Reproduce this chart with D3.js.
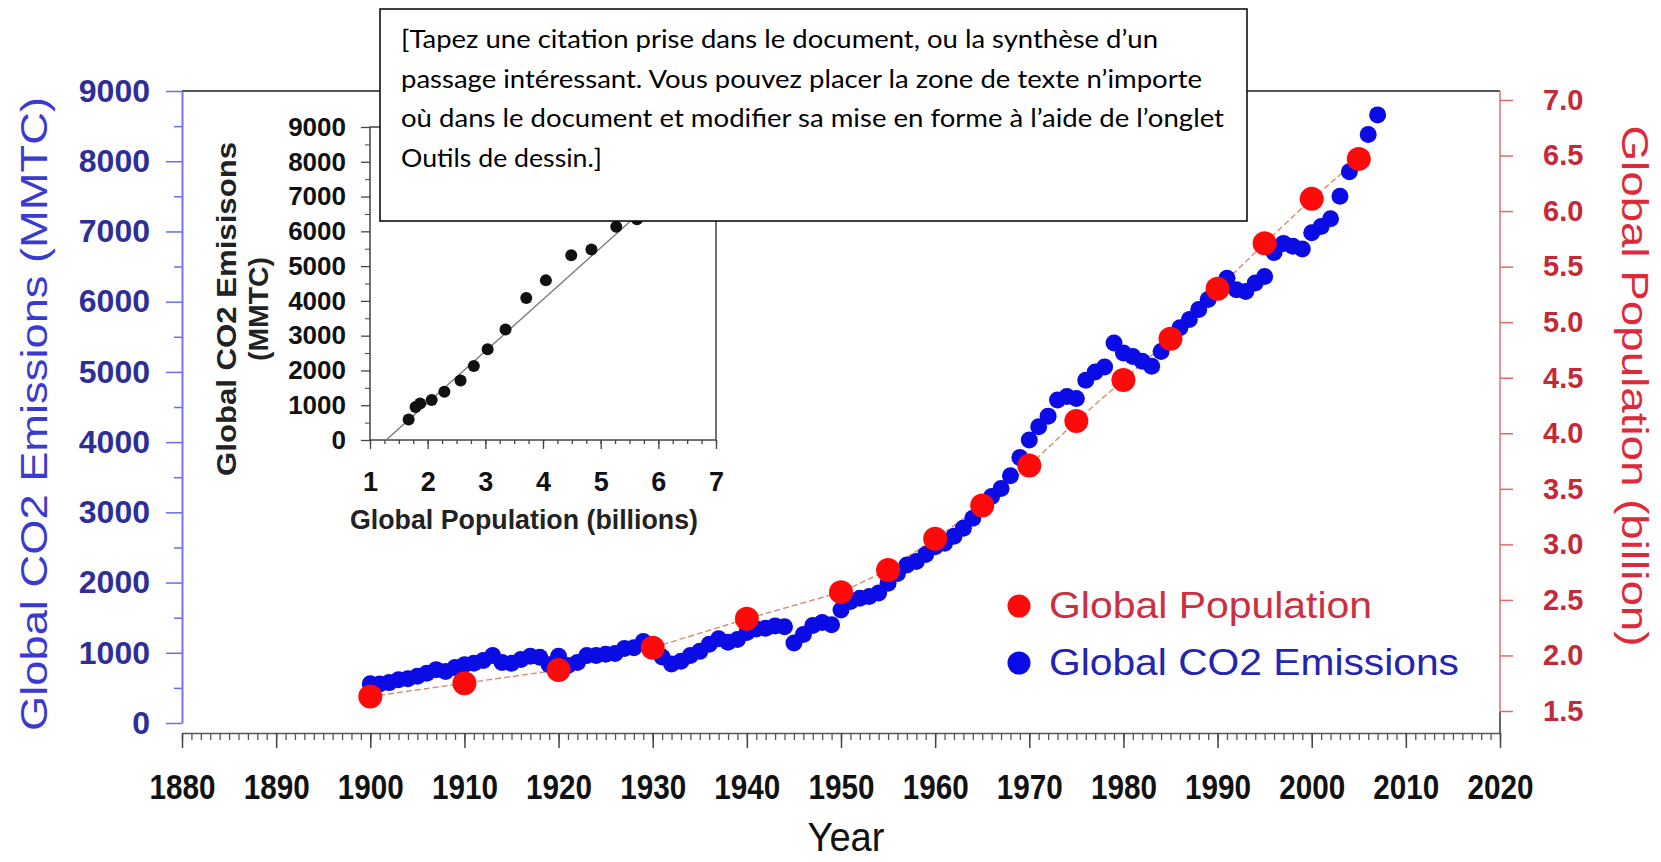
<!DOCTYPE html>
<html>
<head>
<meta charset="utf-8">
<script src="https://cdn.jsdelivr.net/npm/d3@7"></script>
<style>
  body { margin: 0; background: #ffffff; }
  svg { display: block; font-family: 'Liberation Sans', Arial, sans-serif; }
</style>
</head>
<body>
<div id="chart"></div>
<script>
// Global CO2 emissions (MMTC), one point per year
const co2Years = [
  1900, 1901, 1902, 1903, 1904, 1905, 1906, 1907, 1908, 1909,
  1910, 1911, 1912, 1913, 1914, 1915, 1916, 1917, 1918, 1919,
  1920, 1921, 1922, 1923, 1924, 1925, 1926, 1927, 1928, 1929,
  1930, 1931, 1932, 1933, 1934, 1935, 1936, 1937, 1938, 1939,
  1940, 1941, 1942, 1943, 1944, 1945, 1946, 1947, 1948, 1949,
  1950, 1951, 1952, 1953, 1954, 1955, 1956, 1957, 1958, 1959,
  1960, 1961, 1962, 1963, 1964, 1965, 1966, 1967, 1968, 1969,
  1970, 1971, 1972, 1973, 1974, 1975, 1976, 1977, 1978, 1979,
  1980, 1981, 1982, 1983, 1984, 1985, 1986, 1987, 1988, 1989,
  1990, 1991, 1992, 1993, 1994, 1995, 1996, 1997, 1998, 1999,
  2000, 2001, 2002, 2003, 2004, 2005, 2006, 2007,
];
const co2Values = [
  560, 555, 575, 615, 630, 665, 710, 760, 735, 790,
  830, 850, 890, 960, 860, 850, 905, 950, 935, 830,
  950, 820, 860, 960, 960, 980, 990, 1060, 1070, 1160,
  1060, 940, 840, 880, 960, 1020, 1120, 1200, 1150, 1190,
  1290, 1340, 1350, 1380, 1370, 1140, 1260, 1390, 1430, 1400,
  1610, 1730, 1775, 1800, 1850, 1990, 2130, 2250, 2300, 2400,
  2510, 2560, 2660, 2775, 2915, 3080, 3225, 3340, 3520, 3780,
  4030, 4220, 4370, 4600, 4650, 4620, 4880, 5000, 5070, 5410,
  5270, 5220, 5150, 5080, 5290, 5500, 5630, 5745, 5890, 6030,
  6220, 6335, 6170, 6145, 6265, 6360, 6700, 6830, 6790, 6750,
  6980, 7070, 7180, 7500, 7850, 8070, 8380, 8660,
];

// Global population (billion)
const popYears = [1900, 1910, 1920, 1930, 1940, 1950, 1955, 1960, 1965, 1970, 1975, 1980, 1985, 1990, 1995, 2000, 2005];
const popValues = [1.63, 1.75, 1.87, 2.07, 2.33, 2.57, 2.77, 3.05, 3.35, 3.71, 4.11, 4.48, 4.85, 5.30, 5.71, 6.11, 6.47];

// Inset: emissions against population
const insetPop = [1.67, 1.79, 1.87, 2.07, 2.29, 2.57, 2.80, 3.04, 3.35, 3.71, 4.05, 4.49, 4.84, 5.27, 5.63];
const insetCo2 = [590, 950, 1050, 1150, 1390, 1710, 2130, 2610, 3180, 4080, 4590, 5310, 5480, 6130, 6350];
const insetFitPop = [1.28, 6.8];
const insetFitCo2 = [0, 8200];

// Tick labels
const yearTicks = [1880, 1890, 1900, 1910, 1920, 1930, 1940, 1950, 1960, 1970, 1980, 1990, 2000, 2010, 2020];
const co2Ticks = [0, 1000, 2000, 3000, 4000, 5000, 6000, 7000, 8000, 9000];
const popTicks = [1.5, 2.0, 2.5, 3.0, 3.5, 4.0, 4.5, 5.0, 5.5, 6.0, 6.5, 7.0];
const insetPopTicks = [1, 2, 3, 4, 5, 6, 7];

const noteLines = [
  '[Tapez une citation prise dans le document, ou la synthèse d’un',
  'passage intéressant. Vous pouvez placer la zone de texte n’importe',
  'où dans le document et modifier sa mise en forme à l’aide de l’onglet',
  'Outils de dessin.]',
];
const noteWidths = [757, 801, 823, 201];

const co2Data = co2Years.map((year, i) => ({ year, value: co2Values[i] }));
const popData = popYears.map((year, i) => ({ year, value: popValues[i] }));
const insetData = insetPop.map((pop, i) => ({ pop, co2: insetCo2[i] }));

const drawChart = () => {
  const totalWidth = 1661;
  const totalHeight = 862;

  const plot = { left: 182, right: 1500, top: 91, bottom: 733 };

  const xScale = d3.scaleLinear().domain([1880, 2020]).range([plot.left, plot.right]);
  const yLeft = d3.scaleLinear().domain([0, 9000]).range([723, plot.top]);
  const yRight = d3.scaleLinear().domain([1.5, 7.0]).range([711, 100]);

  const svg = d3
    .select('#chart')
    .append('svg')
    .attr('width', totalWidth)
    .attr('height', totalHeight)
    .attr('viewBox', `0 0 ${totalWidth} ${totalHeight}`);

  svg.append('rect').attr('width', totalWidth).attr('height', totalHeight).attr('fill', '#ffffff');

  // Top frame line
  svg
    .append('line')
    .attr('x1', plot.left)
    .attr('x2', plot.right)
    .attr('y1', plot.top)
    .attr('y2', plot.top)
    .attr('stroke', '#555555')
    .attr('stroke-width', 2);

  // Right frame (population axis line)
  svg
    .append('line')
    .attr('x1', plot.right)
    .attr('x2', plot.right)
    .attr('y1', plot.top)
    .attr('y2', 712)
    .attr('stroke', '#e07070')
    .attr('stroke-width', 1.5);
  svg
    .append('line')
    .attr('x1', plot.right)
    .attr('x2', plot.right)
    .attr('y1', 712)
    .attr('y2', plot.bottom)
    .attr('stroke', '#333333')
    .attr('stroke-width', 1.5);

  // Render x axis: yearly minor ticks, decade major ticks
  const minorYears = d3.range(1880, 2021, 1);
  svg
    .append('g')
    .attr('transform', `translate(0, ${plot.bottom})`)
    .call(d3.axisBottom(xScale).tickValues(minorYears).tickSize(7).tickSizeOuter(0).tickFormat(''))
    .call((g) => g.select('.domain').attr('stroke', '#555555').attr('stroke-width', 1.5))
    .call((g) => g.selectAll('.tick line').attr('stroke', '#555555').attr('stroke-width', 1.3));

  svg
    .append('g')
    .attr('transform', `translate(0, ${plot.bottom})`)
    .call(d3.axisBottom(xScale).tickValues(yearTicks).tickSize(15).tickSizeOuter(0).tickFormat(d3.format('d')))
    .call((g) => g.select('.domain').remove())
    .call((g) => g.selectAll('.tick line').attr('stroke', '#444444').attr('stroke-width', 1.5))
    .call((g) =>
      g
        .selectAll('.tick text')
        .attr('y', 66)
        .attr('dy', 0)
        .attr('fill', '#111111')
        .attr('font-size', 35)
        .attr('font-weight', 'bold')
        .attr('textLength', 66)
        .attr('lengthAdjust', 'spacingAndGlyphs')
    );

  // Render x axis label
  svg
    .append('text')
    .attr('x', 846)
    .attr('y', 851)
    .attr('text-anchor', 'middle')
    .attr('font-size', 41)
    .attr('fill', '#111111')
    .attr('textLength', 77)
    .attr('lengthAdjust', 'spacingAndGlyphs')
    .text('Year');

  // Render left y axis
  svg
    .append('g')
    .attr('transform', `translate(${plot.left}, 0)`)
    .call(d3.axisLeft(yLeft).tickValues(d3.range(500, 9000, 1000)).tickSize(8).tickSizeOuter(0).tickFormat(''))
    .call((g) => g.select('.domain').remove())
    .call((g) => g.selectAll('.tick line').attr('stroke', '#6b6bf0').attr('stroke-width', 1.5));

  svg
    .append('g')
    .attr('transform', `translate(${plot.left}, 0)`)
    .call(d3.axisLeft(yLeft).tickValues(co2Ticks).tickSize(16).tickSizeOuter(0).tickPadding(16).tickFormat(d3.format('d')))
    .call((g) => g.select('.domain').attr('stroke', '#7575f5').attr('stroke-width', 2))
    .call((g) => g.selectAll('.tick line').attr('stroke', '#6b6bf0').attr('stroke-width', 1.5))
    .call((g) =>
      g
        .selectAll('.tick text')
        .attr('fill', '#2e2e99')
        .attr('font-size', 32)
        .attr('font-weight', 'bold')
    );

  // Render left y axis label
  svg
    .append('text')
    .attr('transform', 'translate(47, 414) rotate(-90)')
    .attr('text-anchor', 'middle')
    .attr('font-size', 37)
    .attr('fill', '#3a3ad0')
    .attr('textLength', 634)
    .attr('lengthAdjust', 'spacingAndGlyphs')
    .text('Global CO2 Emissions (MMTC)');

  // Render right y axis
  svg
    .append('g')
    .attr('transform', `translate(${plot.right}, 0)`)
    .call(d3.axisRight(yRight).tickValues(popTicks).tickSize(13).tickSizeOuter(0).tickPadding(30).tickFormat(d3.format('.1f')))
    .call((g) => g.select('.domain').remove())
    .call((g) => g.selectAll('.tick line').attr('stroke', '#e06a6a').attr('stroke-width', 1.5))
    .call((g) =>
      g
        .selectAll('.tick text')
        .attr('fill', '#c42a35')
        .attr('font-size', 29)
        .attr('font-weight', 'bold')
    );

  // Render right y axis label
  svg
    .append('text')
    .attr('transform', 'translate(1622, 386) rotate(90)')
    .attr('text-anchor', 'middle')
    .attr('font-size', 37)
    .attr('fill', '#dd2a3a')
    .attr('textLength', 521)
    .attr('lengthAdjust', 'spacingAndGlyphs')
    .text('Global Population (billion)');

  // Population connecting line
  const popLine = d3
    .line()
    .x((d) => xScale(d.year))
    .y((d) => yRight(d.value));

  svg
    .append('path')
    .datum(popData)
    .attr('d', popLine)
    .attr('fill', 'none')
    .attr('stroke', '#d98c6c')
    .attr('stroke-width', 1.4)
    .attr('stroke-dasharray', '6,3');

  // Render CO2 points
  svg
    .append('g')
    .selectAll('circle')
    .data(co2Data)
    .join('circle')
    .attr('cx', (d) => xScale(d.year))
    .attr('cy', (d) => yLeft(d.value))
    .attr('r', 8.5)
    .attr('fill', '#0b0be6');

  // Render population points
  svg
    .append('g')
    .selectAll('circle')
    .data(popData)
    .join('circle')
    .attr('cx', (d) => xScale(d.year))
    .attr('cy', (d) => yRight(d.value))
    .attr('r', 12)
    .attr('fill', '#ff0a0a');

  // Legend
  const legend = [
    { label: 'Global Population', color: '#ff0a0a', text: '#cc3040', y: 606, width: 323 },
    { label: 'Global CO2 Emissions', color: '#0b0be6', text: '#2424b0', y: 663, width: 410 },
  ];
  const legendRows = svg
    .append('g')
    .selectAll('g')
    .data(legend)
    .join('g')
    .attr('transform', (d) => `translate(0, ${d.y})`);
  legendRows
    .append('circle')
    .attr('cx', 1019)
    .attr('cy', 0)
    .attr('r', 11.5)
    .attr('fill', (d) => d.color);
  legendRows
    .append('text')
    .attr('x', 1049)
    .attr('y', 12)
    .attr('font-size', 37)
    .attr('fill', (d) => d.text)
    .attr('textLength', (d) => d.width)
    .attr('lengthAdjust', 'spacingAndGlyphs')
    .text((d) => d.label);

  drawInset(svg);
  drawNote(svg);
};

const drawInset = (svg) => {
  const box = { left: 370, right: 716, top: 127, bottom: 440 };
  const xInset = d3.scaleLinear().domain([1, 7]).range([box.left, box.right]);
  const yInset = d3.scaleLinear().domain([0, 9000]).range([box.bottom, box.top]);

  const inset = svg.append('g');

  // Frame
  inset
    .append('rect')
    .attr('x', box.left)
    .attr('y', box.top)
    .attr('width', box.right - box.left)
    .attr('height', box.bottom - box.top)
    .attr('fill', '#ffffff')
    .attr('stroke', '#444444')
    .attr('stroke-width', 1.5);

  // Inset y axis
  inset
    .append('g')
    .attr('transform', `translate(${box.left}, 0)`)
    .call(d3.axisLeft(yInset).tickValues(d3.range(500, 9000, 1000)).tickSize(5).tickSizeOuter(0).tickFormat(''))
    .call((g) => g.select('.domain').remove())
    .call((g) => g.selectAll('.tick line').attr('stroke', '#444444'));
  inset
    .append('g')
    .attr('transform', `translate(${box.left}, 0)`)
    .call(d3.axisLeft(yInset).tickValues(co2Ticks).tickSize(9).tickSizeOuter(0).tickPadding(15).tickFormat(d3.format('d')))
    .call((g) => g.select('.domain').remove())
    .call((g) => g.selectAll('.tick line').attr('stroke', '#444444').attr('stroke-width', 1.3))
    .call((g) =>
      g
        .selectAll('.tick text')
        .attr('fill', '#111111')
        .attr('font-size', 26)
        .attr('font-weight', 'bold')
    );

  // Inset x axis
  inset
    .append('g')
    .attr('transform', `translate(0, ${box.bottom})`)
    .call(d3.axisBottom(xInset).tickValues(d3.range(1, 7.01, 0.25)).tickSize(4).tickSizeOuter(0).tickFormat(''))
    .call((g) => g.select('.domain').remove())
    .call((g) => g.selectAll('.tick line').attr('stroke', '#444444').attr('stroke-width', 1.3));
  inset
    .append('g')
    .attr('transform', `translate(0, ${box.bottom})`)
    .call(d3.axisBottom(xInset).tickValues(insetPopTicks).tickSize(9).tickSizeOuter(0).tickFormat(d3.format('d')))
    .call((g) => g.select('.domain').remove())
    .call((g) => g.selectAll('.tick line').attr('stroke', '#444444').attr('stroke-width', 1.3))
    .call((g) =>
      g
        .selectAll('.tick text')
        .attr('y', 51)
        .attr('dy', 0)
        .attr('fill', '#111111')
        .attr('font-size', 27)
        .attr('font-weight', 'bold')
    );

  inset
    .append('text')
    .attr('x', 524)
    .attr('y', 529)
    .attr('text-anchor', 'middle')
    .attr('font-size', 27)
    .attr('font-weight', 'bold')
    .attr('fill', '#222222')
    .attr('textLength', 348)
    .attr('lengthAdjust', 'spacingAndGlyphs')
    .text('Global Population (billions)');

  inset
    .append('text')
    .attr('transform', 'translate(236, 309) rotate(-90)')
    .attr('text-anchor', 'middle')
    .attr('font-size', 27)
    .attr('font-weight', 'bold')
    .attr('fill', '#222222')
    .attr('textLength', 334)
    .attr('lengthAdjust', 'spacingAndGlyphs')
    .text('Global CO2 Emisisons');
  inset
    .append('text')
    .attr('transform', 'translate(268, 309) rotate(-90)')
    .attr('text-anchor', 'middle')
    .attr('font-size', 27)
    .attr('font-weight', 'bold')
    .attr('fill', '#222222')
    .attr('textLength', 104)
    .attr('lengthAdjust', 'spacingAndGlyphs')
    .text('(MMTC)');

  // Fit line, clipped to the inset frame
  svg
    .append('clipPath')
    .attr('id', 'inset-clip')
    .append('rect')
    .attr('x', box.left)
    .attr('y', box.top)
    .attr('width', box.right - box.left)
    .attr('height', box.bottom - box.top);

  inset
    .append('path')
    .datum(insetFitPop.map((pop, i) => ({ pop, co2: insetFitCo2[i] })))
    .attr('clip-path', 'url(#inset-clip)')
    .attr('d', d3.line().x((d) => xInset(d.pop)).y((d) => yInset(d.co2)))
    .attr('fill', 'none')
    .attr('stroke', '#777777')
    .attr('stroke-width', 1.3);

  inset
    .append('g')
    .selectAll('circle')
    .data(insetData)
    .join('circle')
    .attr('cx', (d) => xInset(d.pop))
    .attr('cy', (d) => yInset(d.co2))
    .attr('r', 6)
    .attr('fill', '#111111');
};

const drawNote = (svg) => {
  const note = svg.append('g');
  note
    .append('rect')
    .attr('x', 380)
    .attr('y', 9)
    .attr('width', 867)
    .attr('height', 212)
    .attr('fill', '#ffffff')
    .attr('stroke', '#000000')
    .attr('stroke-width', 1.5);

  note
    .selectAll('text')
    .data(noteLines)
    .join('text')
    .attr('x', 401)
    .attr('y', (d, i) => 48 + i * 39.6)
    .attr('font-family', 'Lato, "Open Sans", sans-serif')
    .attr('font-size', 25)
    .attr('fill', '#000000')
    .attr('textLength', (d, i) => noteWidths[i])
    .attr('lengthAdjust', 'spacingAndGlyphs')
    .text((d) => d);
};

drawChart();
</script>
</body>
</html>
